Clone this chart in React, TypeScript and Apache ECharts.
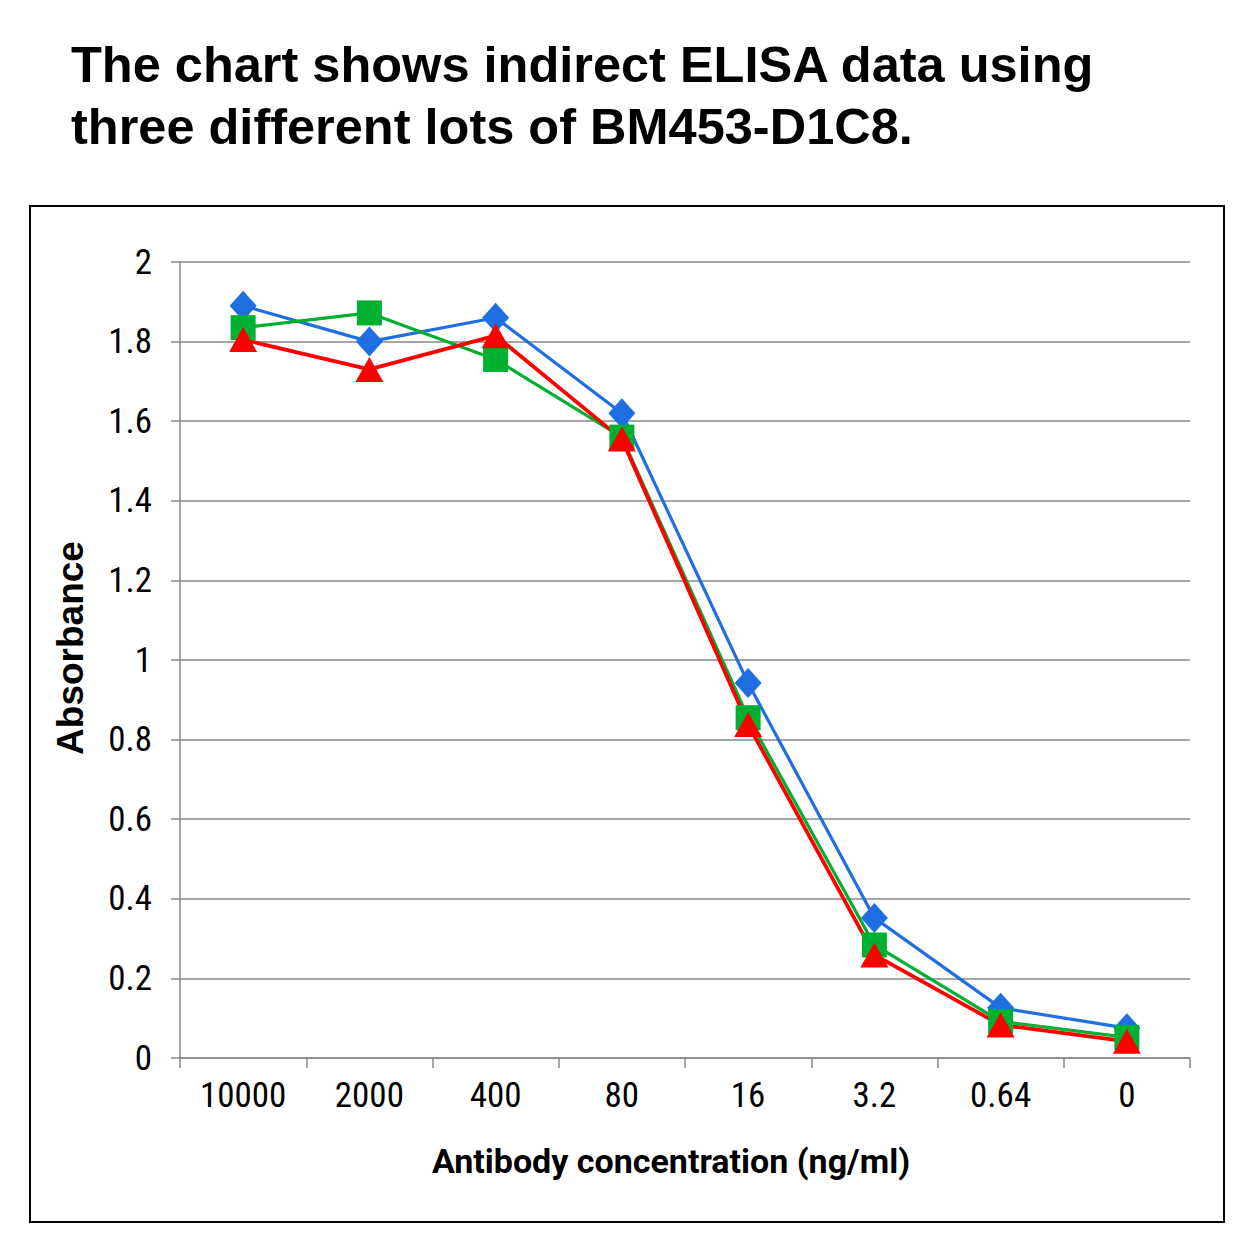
import React, { useEffect, useRef } from "react";
import * as echarts from "echarts";

const categories = ["10000", "2000", "400", "80", "16", "3.2", "0.64", "0"];
const lotBlue = [1.89, 1.80, 1.86, 1.62, 0.942, 0.352, 0.126, 0.075];
const lotGreen = [1.835, 1.872, 1.755, 1.56, 0.855, 0.284, 0.092, 0.052];
const lotRed = [1.805, 1.73, 1.815, 1.555, 0.838, 0.259, 0.083, 0.042];
const titleLines = [
  "The chart shows indirect ELISA data using",
  "three different lots of BM453-D1C8.",
];
const yAxisTitle = "Absorbance";
const xAxisTitle = "Antibody concentration (ng/ml)";

export default function App() {
  const ref = useRef<HTMLDivElement>(null);
  useEffect(() => {
    if (!ref.current) return;
    const chart = echarts.init(ref.current, null, { renderer: "svg" });
    const tickFont = "'Liberation Sans Narrow', 'Arial Narrow', 'Roboto Condensed', sans-serif";
    const mk = (name: string, data: number[], color: string, symbol: string, size: any, w: number) => ({
      name,
      type: "line",
      data,
      symbol,
      symbolSize: size,
      showAllSymbol: true,
      lineStyle: { color, width: w },
      itemStyle: { color, borderWidth: 0 },
      emphasis: { disabled: true },
    });
    chart.setOption({
      animation: false,
      backgroundColor: "#ffffff",
      grid: { left: 180, right: 64, top: 262, bottom: 196, containLabel: false },
      xAxis: {
        type: "category",
        data: categories,
        boundaryGap: true,
        axisLine: { show: true, lineStyle: { color: "#888888", width: 1.5 } },
        axisTick: { show: true, alignWithLabel: false, length: 10, lineStyle: { color: "#888888", width: 1.5 } },
        axisLabel: { color: "#000", fontSize: 35, fontFamily: tickFont, margin: 20 },
        splitLine: { show: false },
      },
      yAxis: {
        type: "value",
        min: 0,
        max: 2,
        interval: 0.2,
        axisLine: { show: true, lineStyle: { color: "#888888", width: 1.5 } },
        axisTick: { show: true, inside: false, length: 9, lineStyle: { color: "#888888", width: 1.5 } },
        axisLabel: { color: "#000", fontSize: 35, fontFamily: tickFont, margin: 28 },
        splitLine: { show: true, lineStyle: { color: "#888888", width: 1.5 } },
      },
      series: [
        mk("Lot 1", lotBlue, "#1f6fe0", "diamond", [27, 30], 3.2),
        mk("Lot 2", lotGreen, "#00b030", "rect", [25, 25], 3.2),
        mk("Lot 3", lotRed, "#ff0000", "triangle", [28, 25], 3.8),
      ],
      graphic: [
        {
          type: "rect",
          shape: { x: 30, y: 206, width: 1194, height: 1016 },
          style: { fill: "none", stroke: "#000", lineWidth: 2 },
          silent: true,
        },
        {
          type: "text",
          x: 71,
          y: 64,
          style: {
            text: titleLines[0],
            font: "bold 50.5px 'Liberation Sans', Arial, sans-serif",
            fill: "#000",
            align: "left",
            verticalAlign: "middle",
          },
        },
        {
          type: "text",
          x: 71,
          y: 126,
          style: {
            text: titleLines[1],
            font: "bold 50.5px 'Liberation Sans', Arial, sans-serif",
            fill: "#000",
            align: "left",
            verticalAlign: "middle",
          },
        },
        {
          type: "text",
          x: 70,
          y: 648,
          rotation: Math.PI / 2,
          style: {
            text: yAxisTitle,
            font: "bold 37px 'Liberation Sans', Arial, sans-serif",
            fill: "#000",
            align: "center",
            verticalAlign: "middle",
          },
        },
        {
          type: "text",
          x: 671,
          y: 1161,
          style: {
            text: xAxisTitle,
            font: "bold 34px Roboto, sans-serif",
            fill: "#000",
            align: "center",
            verticalAlign: "middle",
          },
        },
      ],
    });
    return () => chart.dispose();
  }, []);
  return (
    <div
      ref={ref}
      style={{ position: "fixed", left: 0, top: 0, width: 1254, height: 1254, background: "#fff" }}
    />
  );
}
